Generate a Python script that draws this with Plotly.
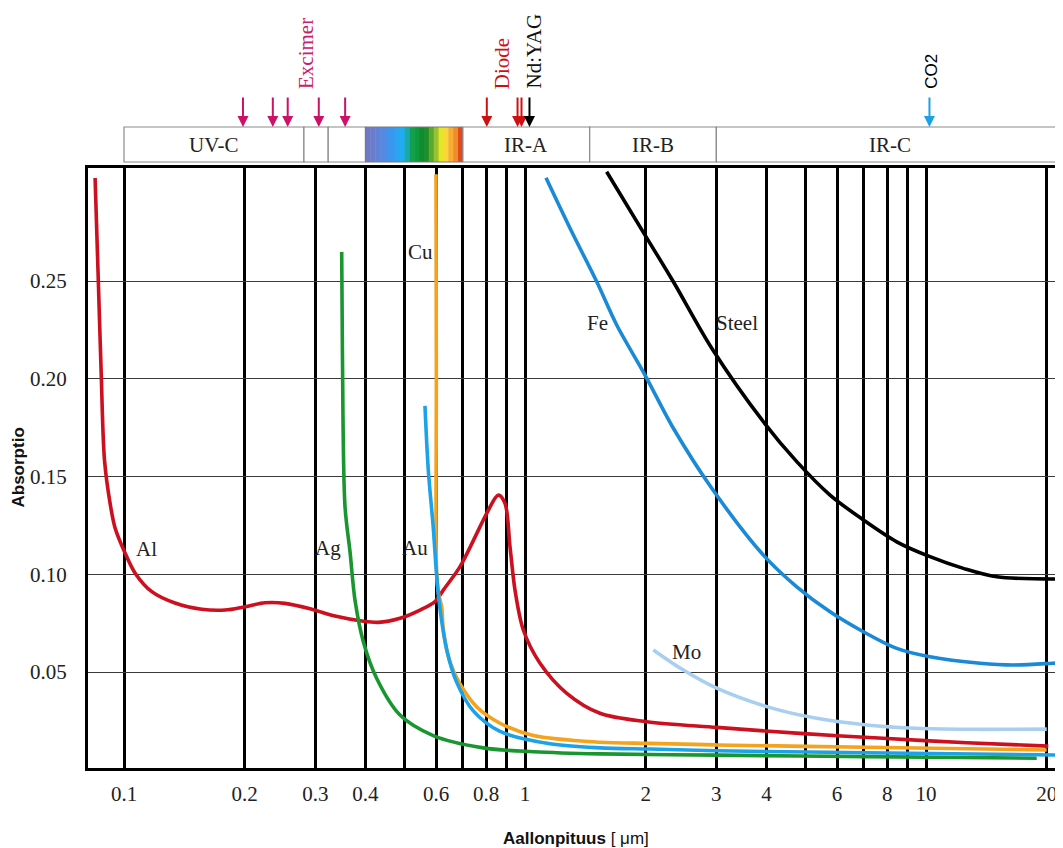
import numpy as np
import plotly.graph_objects as go

# ---------------- data (wavelength in µm, absorptance) ----------------
al_wl = [0.0847, 0.0863, 0.0877, 0.0894, 0.0923, 0.0950, 0.1006, 0.1065, 0.1173, 0.1340, 0.1563, 0.1786,
         0.2003, 0.2246, 0.2521, 0.2938, 0.3358, 0.3916, 0.4307, 0.4879, 0.5473, 0.5965, 0.6255, 0.6886,
         0.7582, 0.8027, 0.8578, 0.8914, 0.9174, 0.9442, 0.9904, 1.090, 1.271, 1.538, 2.012, 3.007, 4.851,
         7.815, 12.64, 20.18]
al_ab = [0.3027, 0.2496, 0.2035, 0.1584, 0.1364, 0.1237, 0.1109, 0.1007, 0.0911, 0.0853, 0.0821, 0.0817,
         0.0834, 0.0854, 0.0851, 0.0821, 0.0786, 0.0761, 0.0754, 0.0775, 0.0817, 0.0860, 0.0919, 0.1039,
         0.1209, 0.1312, 0.1405, 0.1363, 0.1141, 0.0919, 0.0715, 0.0545, 0.0391, 0.0289, 0.0246, 0.0217,
         0.0186, 0.0161, 0.0138, 0.0121]

ag_wl = [0.3490, 0.3506, 0.3557, 0.3661, 0.3769, 0.3952, 0.4268, 0.4879, 0.5904, 0.7871, 1.049, 1.538,
         3.007, 7.114, 18.88]
ag_ab = [0.2649, 0.2096, 0.1347, 0.1115, 0.0864, 0.0655, 0.0467, 0.0280, 0.0175, 0.0112, 0.0092, 0.0081,
         0.0075, 0.0067, 0.0059]

cu_wl = [0.5999, 0.6010, 0.6016, 0.6078, 0.6198, 0.6255, 0.6501, 0.6886, 0.7582, 0.8664, 1.049, 1.538,
         2.050, 3.007, 7.114, 20.0]
cu_ab = [0.3046, 0.2000, 0.1032, 0.0906, 0.0834, 0.0718, 0.0551, 0.0439, 0.0321, 0.0238, 0.0175, 0.0141,
         0.0135, 0.0127, 0.0115, 0.0101]

au_wl = [0.5630, 0.5739, 0.5904, 0.6020, 0.6138, 0.6379, 0.6756, 0.7431, 0.8664, 1.154, 1.538, 2.050,
         3.007, 7.114, 21.96]
au_ab = [0.1861, 0.1532, 0.1240, 0.0996, 0.0822, 0.0614, 0.0447, 0.0301, 0.0196, 0.0133, 0.0112, 0.0106,
         0.0097, 0.0087, 0.0075]

fe_wl = [1.128, 1.295, 1.510, 1.693, 1.992, 2.344, 2.922, 3.930, 4.761, 5.763, 6.977, 8.452,
         10.23, 13.64, 16.51, 20.70, 21.96]
fe_ab = [0.3028, 0.2770, 0.2496, 0.2275, 0.2019, 0.1747, 0.1440, 0.1098, 0.0936, 0.0808, 0.0706,
         0.0621, 0.0578, 0.0545, 0.0536, 0.0545, 0.0548]

steel_wl = [1.598, 1.992, 2.344, 2.922, 3.930, 4.761, 5.763, 6.977, 8.452, 10.23, 12.39, 15.01, 21.96]
steel_ab = [0.3059, 0.2735, 0.2496, 0.2156, 0.1780, 0.1576, 0.1405, 0.1278, 0.1166, 0.1090, 0.1030,
            0.0987, 0.0976]

mo_wl = [2.089, 2.482, 3.007, 4.006, 5.339, 7.114, 9.480, 12.64, 20.0]
mo_ab = [0.0613, 0.0510, 0.0417, 0.0323, 0.0263, 0.0229, 0.0212, 0.0207, 0.0208]

# curve labels: (text, wavelength, absorptance)
label_names = ["Al", "Ag", "Au", "Cu", "Fe", "Steel", "Mo"]
label_wl = [0.1135, 0.3227, 0.5317, 0.5502, 1.516, 3.369, 2.531]
label_ab = [0.1129, 0.1135, 0.1135, 0.2648, 0.2285, 0.2285, 0.0604]

# axis ticks
grid_vals = [0.1, 0.2, 0.3, 0.4, 0.5, 0.6, 0.7, 0.8, 0.9, 1, 2, 3, 4, 5, 6, 7, 8, 9, 10, 20]
grid_text = ["0.1", "0.2", "0.3", "0.4", "", "0.6", "", "0.8", "", "1", "2", "3", "4", "", "6", "", "8", "",
             "10", "20"]
y_vals = [0.05, 0.10, 0.15, 0.20, 0.25]
y_text = ["0.05", "0.10", "0.15", "0.20", "0.25"]

# spectral bands on top
band_edges = [0.1, 0.281, 0.323, 0.4, 0.7, 1.45, 3.0, 40.0]
band_names = ["UV-C", "", "", None, "IR-A", "IR-B", "IR-C"]   # None = visible spectrum
spectrum_colors = ["#6f78c4", "#6a7ccc", "#6282d6", "#5689e0", "#4690ea", "#3898f0", "#2aa4f2", "#20acf0",
                   "#18a8b0", "#10a050", "#0c9a3c", "#108c30", "#1f8e2c", "#5aa830", "#98c232", "#e6e626",
                   "#f8d838", "#f6ae34", "#f08c2a", "#e04a1c"]

# laser lines
excimer_wl = [0.198, 0.235, 0.256, 0.306, 0.356]
diode_wl = [0.803, 0.958, 0.980]
ndyag_wl = [1.026]
co2_wl = [10.2]

# ---------------- layout geometry ----------------
XR = [-1.0898, 1.3416]
YR = [0.0009, 0.3078]
OFF = 8                      # page body margin of the html page
PL, PT, PWID, PHGT = 88, 168, 975, 600   # plot area on the page
W, H = 1063 - OFF, 848 - OFF
ML, MT = PL - OFF, PT - OFF
MR, MB = W - ML - PWID, H - MT - PHGT


def px_paper(v):
    return (np.log10(v) - XR[0]) / (XR[1] - XR[0])


def py_paper(pix_y):
    return 1 + (PT - pix_y) / PHGT


def pxx_paper(pix_x):
    return (pix_x - PL) / PWID


SERIF = "Liberation Serif, Times New Roman, serif"
SANS = "Liberation Sans, Arial, sans-serif"

fig = go.Figure()

series = [
    (al_wl, al_ab, "#cc1020"),
    (ag_wl, ag_ab, "#1a9630"),
    (cu_wl, cu_ab, "#f5a21c"),
    (au_wl, au_ab, "#1ca2e8"),
    (mo_wl, mo_ab, "#a9cff0"),
    (fe_wl, fe_ab, "#1a8ad6"),
    (steel_wl, steel_ab, "#000000"),
]
for wl, ab, col in series:
    fig.add_trace(go.Scatter(x=wl, y=ab, mode="lines",
                             line=dict(color=col, width=3.6, shape="spline", smoothing=0.9),
                             showlegend=False, hoverinfo="skip"))

shapes = []
annotations = []

# band boxes
yb0, yb1 = py_paper(162), py_paper(127)
for i in range(len(band_names)):
    x0 = px_paper(band_edges[i])
    x1 = min(px_paper(band_edges[i + 1]), 1.01)
    if band_names[i] is None:
        n = len(spectrum_colors)
        l0, l1 = np.log10(band_edges[i]), np.log10(band_edges[i + 1])
        for k, c in enumerate(spectrum_colors):
            a = px_paper(10 ** (l0 + (l1 - l0) * k / n))
            b = px_paper(10 ** (l0 + (l1 - l0) * (k + 1) / n))
            shapes.append(dict(type="rect", xref="paper", yref="paper", x0=a, x1=b + 0.0005, y0=yb0, y1=yb1,
                               fillcolor=c, line=dict(width=0), layer="above"))
        shapes.append(dict(type="rect", xref="paper", yref="paper", x0=x0, x1=x1, y0=yb0, y1=yb1,
                           line=dict(color="#7a7a7a", width=1)))
    else:
        shapes.append(dict(type="rect", xref="paper", yref="paper", x0=x0, x1=x1, y0=yb0, y1=yb1,
                           fillcolor="white", line=dict(color="#8a8a8a", width=1.2)))
        if band_names[i]:
            xc = (x0 + min(x1, 1.0)) / 2
            annotations.append(dict(text=band_names[i], xref="paper", yref="paper", x=xc, y=(yb0 + yb1) / 2,
                                    showarrow=False, font=dict(family=SERIF, size=21, color="#222"),
                                    xanchor="center", yanchor="middle"))

# laser arrows
for wls, col in [(excimer_wl, "#cc1166"), (diode_wl, "#d01010"), (ndyag_wl, "#000000"), (co2_wl, "#1ca0e6")]:
    for v in wls:
        annotations.append(dict(text="", xref="paper", yref="paper", x=px_paper(v), y=yb1,
                                ax=0, ay=-31, showarrow=True, arrowhead=2, arrowsize=1.1,
                                arrowwidth=2, arrowcolor=col, standoff=0))

# laser labels (rotated)
laser_labels = [("Excimer", 306.5, 53.5, "#c8206a", SERIF, 21),
                ("Diode", 501.7, 63.5, "#d01010", SERIF, 21),
                ("Nd:YAG", 533.0, 51.5, "#111111", SERIF, 21),
                ("CO2", 932.0, 71.7, "#000000", SANS, 17)]
for t, xp, yp, col, fam, sz in laser_labels:
    annotations.append(dict(text=t, xref="paper", yref="paper", x=pxx_paper(xp), y=py_paper(yp),
                            showarrow=False, textangle=-90, font=dict(family=fam, size=sz, color=col),
                            xanchor="center", yanchor="middle"))

# curve labels
for t, xv, yv in zip(label_names, label_wl, label_ab):
    annotations.append(dict(text=t, xref="x", yref="y", x=np.log10(xv), y=yv, showarrow=False,
                            font=dict(family=SERIF, size=21, color="#222"), xanchor="center", yanchor="middle"))

# axis titles
annotations.append(dict(text="<b>Absorptio</b>", xref="paper", yref="paper", x=pxx_paper(17.5), y=0.5,
                        textangle=-90, showarrow=False, font=dict(family=SANS, size=17, color="#111"),
                        xanchor="center", yanchor="middle"))
annotations.append(dict(text="<b>Aallonpituus</b> [ μm]", xref="paper", yref="paper", x=0.5,
                        y=py_paper(838), showarrow=False, font=dict(family=SANS, size=17, color="#111"),
                        xanchor="center", yanchor="middle"))

fig.update_layout(
    width=W, height=H, margin=dict(l=ML, r=MR, t=MT, b=MB, autoexpand=False),
    paper_bgcolor="white", plot_bgcolor="white",
    shapes=shapes, annotations=annotations, showlegend=False,
    xaxis=dict(type="log", range=XR, tickmode="array", tickvals=grid_vals, ticktext=grid_text,
               showgrid=True, gridcolor="#000000", gridwidth=2.6, zeroline=False, automargin=False,
               showline=True, linecolor="#000000", linewidth=3, mirror=True,
               ticks="", ticklabelstandoff=5, tickfont=dict(family=SERIF, size=21, color="#222")),
    yaxis=dict(range=YR, tickmode="array", tickvals=y_vals, ticktext=y_text, automargin=False,
               showgrid=True, gridcolor="#3a3a3a", gridwidth=1.2, zeroline=False,
               showline=True, linecolor="#000000", linewidth=3, mirror=False,
               ticks="", ticklabelstandoff=14, tickfont=dict(family=SERIF, size=21, color="#222")),
)

fig.write_html("out.html")
